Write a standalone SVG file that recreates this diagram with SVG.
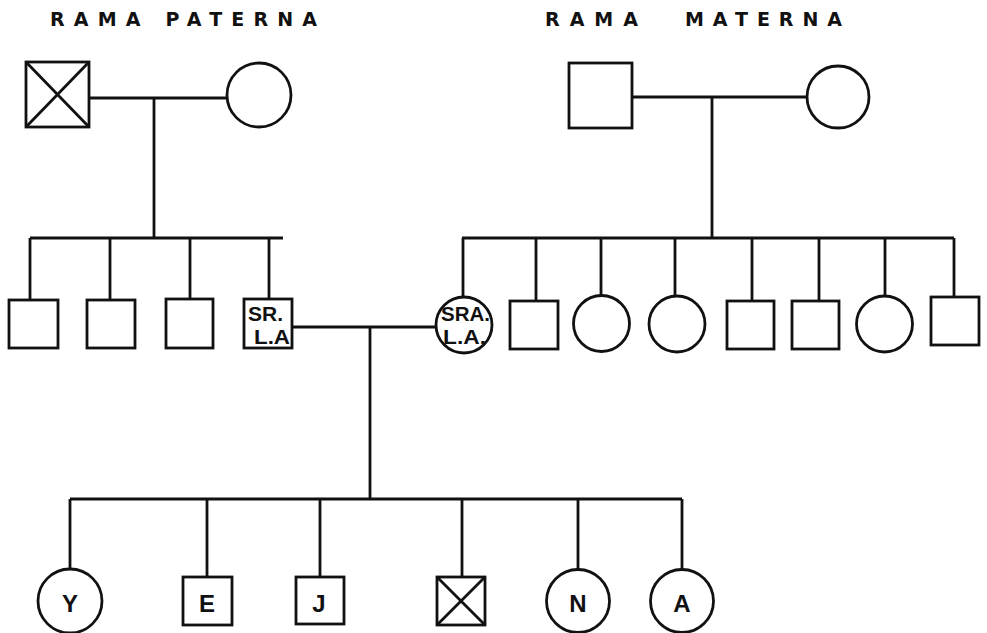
<svg xmlns="http://www.w3.org/2000/svg" width="987" height="633" viewBox="0 0 987 633">
<style>
.s{fill:#fff;stroke:#111;stroke-width:2.8}
.c{fill:none;stroke:#111;stroke-width:2.8}
.t{font-family:"Liberation Sans",Arial,sans-serif;font-weight:bold;fill:#111}
.h{font-family:"DejaVu Sans","Liberation Sans",sans-serif;font-size:19px}
.l{font-size:21px}
.k{font-size:24px;text-anchor:middle}
</style>
<rect width="987" height="633" fill="#fff"/>
<text class="t h" x="50" y="26" textLength="267" lengthAdjust="spacing">RAMA PATERNA</text>
<text class="t h" x="545" y="26" textLength="93" lengthAdjust="spacing">RAMA</text>
<text class="t h" x="685" y="26" textLength="157" lengthAdjust="spacing">MATERNA</text>
<g id="connectors" class="c">
<path d="M89 98H228M154 98V238M30 238H283M30 238V300M110 238V300M190 238V299M269 238V299"/>
<path d="M632 97H807M712 97V238M462 238H954M463 238V297M536 238V301M601 238V295M675 238V296M752 238V301M819 238V301M885 238V296M954 238V297"/>
<path d="M292 327H437M370 327V499M70 499H682M70 499V569M207 499V577M320 499V577M462 499V577M578 499V570M682 499V570"/>
</g>
<g id="pat-father"><rect class="s" x="26" y="62" width="63" height="65"/><path class="c" d="M26 62L89 127M89 62L26 127"/></g>
<g id="pat-mother"><circle class="s" cx="259" cy="95" r="32"/></g>
<g id="mat-father"><rect class="s" x="569" y="63" width="63" height="65"/></g>
<g id="mat-mother"><circle class="s" cx="838" cy="97" r="31"/></g>
<g id="p1"><rect class="s" x="9" y="300" width="49" height="48"/></g>
<g id="p2"><rect class="s" x="87" y="300" width="48" height="48"/></g>
<g id="p3"><rect class="s" x="166" y="299" width="47" height="49"/></g>
<g id="sr-la"><rect class="s" x="244" y="299" width="48" height="49"/>
<text class="t l" x="248" y="321" textLength="35" lengthAdjust="spacingAndGlyphs">SR.</text><text class="t l" x="254" y="344" textLength="36" lengthAdjust="spacingAndGlyphs">L.A</text></g>
<g id="sra-la"><circle class="s" cx="464" cy="325" r="28"/>
<text class="t l" x="441" y="321" textLength="49" lengthAdjust="spacingAndGlyphs">SRA.</text><text class="t l" x="443" y="344" textLength="43" lengthAdjust="spacingAndGlyphs">L.A.</text></g>
<g id="m2"><rect class="s" x="510" y="301" width="48" height="48"/></g>
<g id="m3"><circle class="s" cx="601.5" cy="323.5" r="28"/></g>
<g id="m4"><circle class="s" cx="677" cy="324" r="28"/></g>
<g id="m5"><rect class="s" x="727" y="301" width="47" height="48"/></g>
<g id="m6"><rect class="s" x="792" y="301" width="47" height="48"/></g>
<g id="m7"><circle class="s" cx="884.5" cy="324" r="28"/></g>
<g id="m8"><rect class="s" x="931" y="297" width="48" height="48"/></g>
<g id="child-y"><circle class="s" cx="70" cy="601" r="32"/><text class="t k" x="70" y="612">Y</text></g>
<g id="child-e"><rect class="s" x="183" y="577" width="49" height="48"/><text class="t k" x="207" y="612">E</text></g>
<g id="child-j"><rect class="s" x="296" y="577" width="48" height="47"/><text class="t k" x="319" y="612">J</text></g>
<g id="child-x"><rect class="s" x="437" y="577" width="48" height="48"/><path class="c" d="M437 577L485 625M485 577L437 625"/></g>
<g id="child-n"><circle class="s" cx="578" cy="601" r="31.5"/><text class="t k" x="578" y="612">N</text></g>
<g id="child-a"><circle class="s" cx="682" cy="601" r="31.5"/><text class="t k" x="682" y="612">A</text></g>
</svg>
